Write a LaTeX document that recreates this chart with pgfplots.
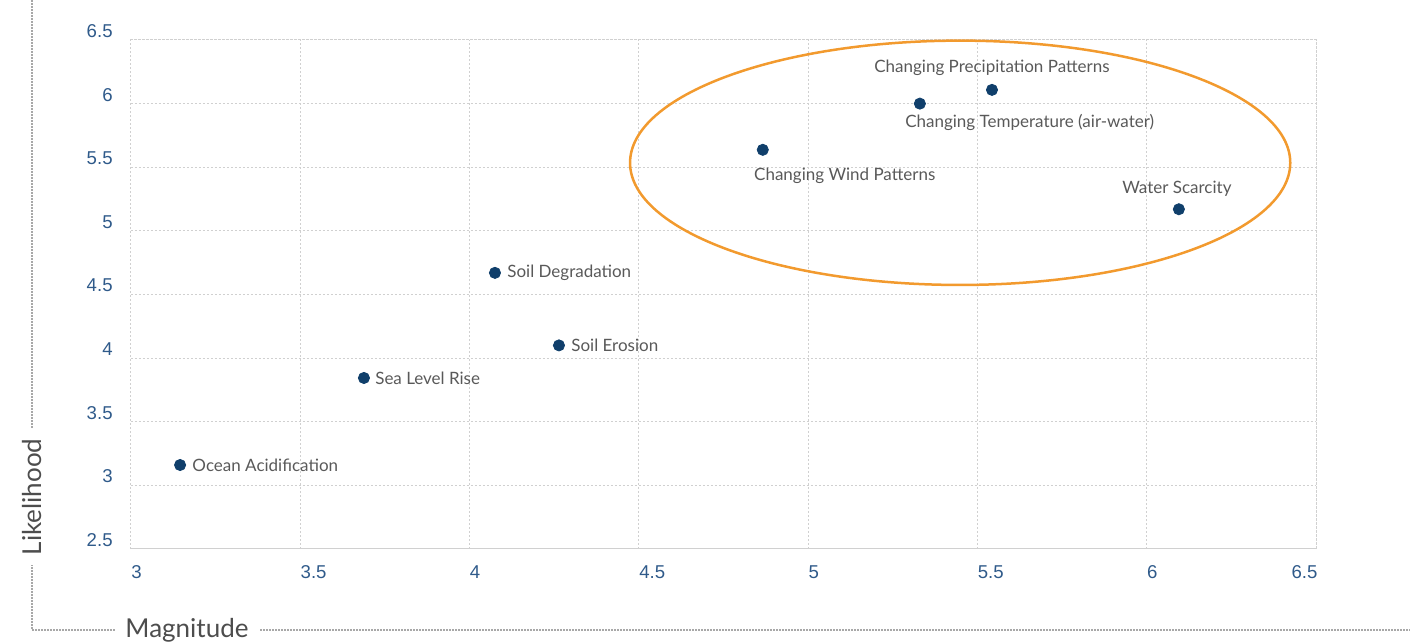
\documentclass[border=0pt]{standalone}
\usepackage{pgfplots}
\pgfplotsset{compat=1.18}
\usepackage{pgfplotstable}
\usepackage{fontspec}
\setmainfont{Lato}
\newfontfamily\tickfont{Liberation Sans}
\definecolor{navy}{HTML}{103F6B}
\definecolor{lblgray}{HTML}{595959}
\definecolor{titlegray}{HTML}{4D4D4D}
\definecolor{tickblue}{HTML}{2F5A8A}
\definecolor{gridgray}{HTML}{D0D0D0}
\definecolor{framegray}{HTML}{A8A8A8}
\definecolor{ellorange}{HTML}{F29A2E}
\tikzset{lbl/.style={font=\fontsize{8.5}{9.5}\selectfont, text=lblgray, inner sep=0pt}}

\pgfplotstableread[col sep=comma]{
x,y
3.145,3.16
3.688,3.844
4.075,4.67
4.264,4.10
4.866,5.637
5.33,6.0
5.543,6.108
6.095,5.17
}\datatable

\begin{document}
\begin{tikzpicture}
\begin{axis}[
  at={(0,0)}, anchor=south west,
  scale only axis, width=592.5pt, height=254.5pt,
  xmin=3, xmax=6.5, ymin=2.5, ymax=6.5,
  xtick={3,3.5,4,4.5,5,5.5,6,6.5},
  xticklabels={3,3.5,4,4.5,5,5.5,6,\llap{6.5}},
  ytick={2.5,3,3.5,4,4.5,5,5.5,6,6.5},
  yticklabels={2.5,3,3.5,4,4.5,5,5.5,6,6.5},
  grid=major,
  major grid style={gridgray, dash pattern=on 1.2pt off 0.8pt, line width=0.5pt},
  axis line style={gridgray, dash pattern=on 1.2pt off 0.8pt, line width=0.5pt},
  major tick length=0pt,
  tick label style={font=\tickfont\fontsize{9.3}{10}\selectfont, text=tickblue, inner sep=0pt},
  xticklabel style={anchor=north west, yshift=-8pt},
  yticklabel style={anchor=south east, xshift=-9pt, yshift=1pt},
  clip=false,
]
\draw[ellorange, line width=1.25pt] (axis cs:5.449,5.535) ellipse [x radius=0.975, y radius=0.96];
\addplot[only marks, mark=*, mark size=2.8pt, mark options={fill=navy, draw=navy}]
  table[x=x, y=y] {\datatable};
\node[lbl, anchor=west, xshift=6pt] at (axis cs:3.145,3.16) {Ocean Acidification};
\node[lbl, anchor=west, xshift=5.5pt] at (axis cs:3.688,3.844) {Sea Level Rise};
\node[lbl, anchor=west, xshift=6pt] at (axis cs:4.075,4.67) {Soil Degradation};
\node[lbl, anchor=west, xshift=6pt] at (axis cs:4.264,4.10) {Soil Erosion};
\node[lbl, anchor=west, xshift=-4.5pt, yshift=-13pt] at (axis cs:4.866,5.637) {Changing Wind Patterns};
\node[lbl, anchor=west, xshift=-7.5pt, yshift=-9.5pt] at (axis cs:5.33,6.0) {Changing Temperature (air-water)};
\node[lbl, anchor=center, yshift=11pt] at (axis cs:5.543,6.108) {Changing Precipitation Patterns};
\node[lbl, anchor=center, xshift=-1pt, yshift=10pt] at (axis cs:6.095,5.17) {Water Scarcity};
\end{axis}
\draw[framegray, dash pattern=on 1pt off 0.5pt, line width=0.6pt]
  (-49.5pt,274.5pt) -- (-49.5pt,-40.5pt) -- (639.5pt,-40.5pt);
\node[fill=white, rotate=90, font=\fontsize{13}{15}\selectfont, text=titlegray, inner xsep=5pt, inner ysep=1pt] at (-49.5pt,26pt) {Likelihood};
\node[fill=white, font=\fontsize{13}{15}\selectfont, text=titlegray, inner xsep=5pt, inner ysep=1pt] at (28pt,-40.5pt) {Magnitude};
\pgfresetboundingbox
\useasboundingbox (-65.5pt,-46.5pt) rectangle (639.5pt,274.5pt);
\end{tikzpicture}
\end{document}
